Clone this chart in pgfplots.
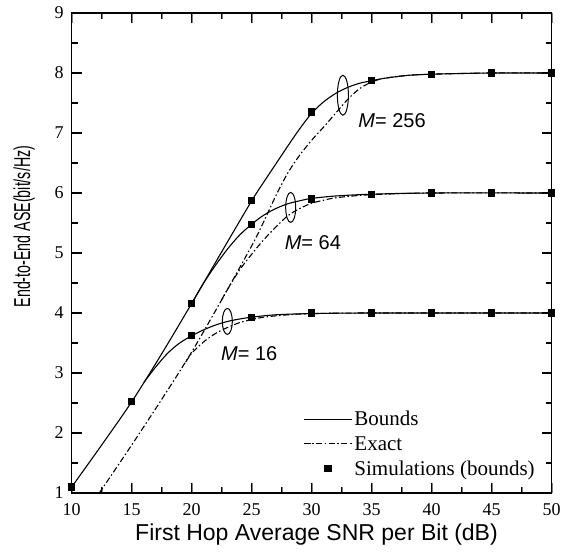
\documentclass[border=0pt]{standalone}
\usepackage{fontspec}
\setmainfont{Liberation Sans}
\newfontfamily\timesfont{Liberation Serif}
\usepackage{graphicx}
\usepackage{pgfplots}
\pgfplotsset{compat=1.18}
\pgfplotsset{/pgf/number format/assume math mode=true}
\tikzset{dashdot/.style={dash pattern=on 6pt off 2.5pt on 1.5pt off 2.5pt}}
\begin{document}
\begin{tikzpicture}
\begin{axis}[
  scale only axis, width=480pt, height=480pt,
  xmin=10, xmax=50, ymin=1, ymax=9,
  xtick={10,15,20,25,30,35,40,45,50}, ytick={1,2,3,4,5,6,7,8,9},
  minor x tick num=1, minor y tick num=1,
  major tick length=10pt, minor tick length=6pt,
  line width=1.3pt,
  tick label style={font=\fontsize{18}{20}\selectfont\timesfont},
  xticklabel style={yshift=-7pt},
  yticklabel style={xshift=-4pt},
  xlabel={First Hop Average SNR per Bit (dB)},
  ylabel={\scalebox{0.62}[1]{End-to-End ASE(bit/s/Hz)}},
  label style={font=\fontsize{23}{26}\selectfont},
  xlabel style={at={(axis description cs:0.51,-0.087)}, anchor=center},
  ylabel style={at={(axis description cs:-0.099,0.555)}, anchor=center},
  legend style={at={(0.475,0.18)}, anchor=north west, draw=none, fill=none,
    font=\fontsize{21}{25}\selectfont\timesfont, row sep=5pt,
    cells={anchor=west}},
  legend image code/.code={\draw[mark repeat=2,mark phase=2,#1] plot coordinates {(0pt,0pt) (24pt,0pt) (48pt,0pt)};},
]
\coordinate (SW) at (rel axis cs:0,0);
% Bounds M=256
\addplot[black, line width=1.1pt, smooth] table {
10 1.10
12.5 1.80
15 2.52
17.5 3.32
20 4.16
22.5 5.02
25 5.87
26 6.18
27 6.48
28 6.78
29 7.07
30 7.33
31 7.52
32 7.66
33 7.76
34 7.83
35 7.87
36 7.91
38 7.96
40 7.98
42 7.99
45 8.00
50 8.00
};
\addlegendentry{Bounds}
% Exact M=256
\addplot[black, line width=1.1pt, dashdot, smooth] table {
12.3 1.00
15 1.80
17.5 2.56
20 3.35
22.5 4.22
25 5.12
26 5.52
27 5.95
28 6.33
29 6.63
30 6.88
31 7.10
32 7.33
33 7.56
34 7.74
35 7.85
36 7.91
38 7.96
40 7.98
45 8.00
50 8.00
};
\addlegendentry{Exact}
% Simulations (bounds)
\addplot[black, only marks, mark=square*, mark size=3pt, mark options={solid}] table {
10 1.10
15 2.53
20 4.16
25 5.87
30 7.35
35 7.87
40 7.98
45 8.00
50 8.00
};
\addlegendentry{Simulations (bounds)}
\addplot[black, only marks, mark=square*, mark size=3pt, forget plot] table {
25 5.48
30 5.90
35 5.98
40 6.00
45 6.00
50 6.00
};
\addplot[black, only marks, mark=square*, mark size=3pt, forget plot] table {
20 3.62
25 3.93
30 4.00
35 4.00
40 4.00
45 4.00
50 4.00
};
% Bounds M=64
\addplot[black, line width=1.1pt, smooth, forget plot] table {
20 4.16
21 4.50
22 4.80
23 5.07
24 5.30
25 5.48
26 5.63
27 5.74
28 5.82
29 5.87
30 5.91
32 5.95
35 5.98
40 6.00
50 6.00
};
% Exact M=64
\addplot[black, line width=1.1pt, dashdot, smooth, forget plot] table {
22.5 4.22
23 4.40
24 4.72
25 4.98
26 5.22
27 5.43
28 5.62
29 5.74
30 5.83
31 5.88
32 5.92
34 5.96
36 5.98
40 6.00
50 6.00
};
% Bounds M=16
\addplot[black, line width=1.1pt, smooth, forget plot] table {
16 2.84
17 3.10
18 3.33
19 3.50
20 3.62
21 3.72
22 3.80
23 3.86
24 3.90
25 3.93
27 3.97
30 3.99
35 4.00
50 4.00
};
% Exact M=16
\addplot[black, line width=1.1pt, dashdot, smooth, forget plot] table {
19.5 3.18
20 3.33
21 3.52
22 3.66
23 3.76
24 3.84
25 3.89
26 3.93
28 3.97
30 3.99
35 4.00
50 4.00
};
\draw[line width=1pt] (axis cs:22.97,3.86) ellipse [x radius=5pt, y radius=13pt];
\draw[line width=1pt] (axis cs:28.25,5.76) ellipse [x radius=5pt, y radius=15pt];
\draw[line width=1pt] (axis cs:32.6,7.63) ellipse [x radius=5.5pt, y radius=20pt];
\node[font=\fontsize{20}{24}\selectfont] at (axis cs:36.7,7.2) {\textit{M}= 256};
\node[font=\fontsize{20}{24}\selectfont] at (axis cs:30.1,5.17) {\textit{M}= 64};
\node[font=\fontsize{20}{24}\selectfont] at (axis cs:24.8,3.33) {\textit{M}= 16};
\end{axis}
% tick marks drawn on the axis frame
\foreach \t in {60,120,180,240,300,360,420} {
  \draw[line width=1.2pt] ([xshift=\t pt]SW) -- ++(0pt,10pt);
  \draw[line width=1.2pt] ([xshift=\t pt, yshift=480pt]SW) -- ++(0pt,-10pt);
  \draw[line width=1.2pt] ([yshift=\t pt]SW) -- ++(10pt,0pt);
  \draw[line width=1.2pt] ([xshift=480pt, yshift=\t pt]SW) -- ++(-10pt,0pt);
}
\foreach \t in {30,90,150,210,270,330,390,450} {
  \draw[line width=1.2pt] ([xshift=\t pt]SW) -- ++(0pt,6pt);
  \draw[line width=1.2pt] ([xshift=\t pt, yshift=480pt]SW) -- ++(0pt,-6pt);
  \draw[line width=1.2pt] ([yshift=\t pt]SW) -- ++(6pt,0pt);
  \draw[line width=1.2pt] ([xshift=480pt, yshift=\t pt]SW) -- ++(-6pt,0pt);
}
\path (-71.7pt,-60pt) rectangle (494.3pt,493pt);
\end{tikzpicture}
\end{document}
